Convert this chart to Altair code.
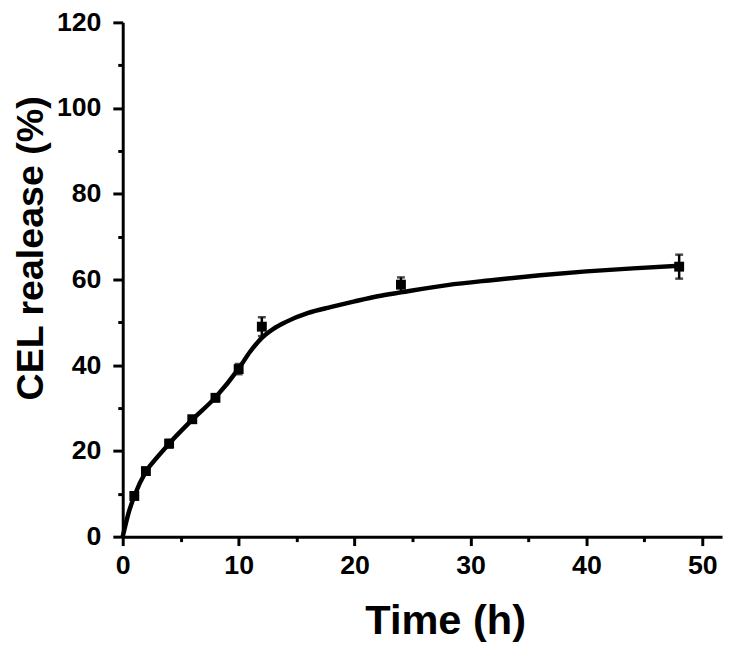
import altair as alt
import pandas as pd

# measured points
time_h = [1, 2, 4, 6, 8, 10, 12, 24, 48]
release = [9.5, 15.3, 21.7, 27.4, 32.4, 39.1, 49.0, 58.8, 63.0]
error = [0.8, 0.7, 0.9, 0.7, 0.8, 1.2, 2.2, 1.7, 2.8]

# fitted curve
fit_t = [0, 0.5, 1, 2, 3, 4, 6, 8, 10, 11, 12, 13, 14, 16, 18, 20, 22, 24, 28, 32, 36, 40, 44, 48]
fit_y = [0, 5.5, 9.5, 15.2, 18.6, 21.7, 27.3, 32.5, 39.2, 43.2, 46.4, 48.5, 50.0, 52.2, 53.6,
         54.9, 56.1, 57.0, 58.7, 59.9, 61.0, 61.9, 62.6, 63.2]

x_major = [0, 10, 20, 30, 40, 50]
x_minor = [5, 15, 25, 35, 45]
y_major = [0, 20, 40, 60, 80, 100, 120]
y_minor = [10, 30, 50, 70, 90, 110]

pts = pd.DataFrame({"t": time_h, "r": release, "e": error})
pts["lo"] = pts["r"] - pts["e"]
pts["hi"] = pts["r"] + pts["e"]
fit = pd.DataFrame({"t": fit_t, "r": fit_y})

FONT = "Liberation Sans"
xs = alt.Scale(domain=[0, 51.7], nice=False, zero=False)
ys = alt.Scale(domain=[0, 120], nice=False)

major_x = alt.Axis(values=x_major, orient="bottom", title="Time (h)", titleFontSize=42,
                   titleFont=FONT, titleFontWeight="bold", titleColor="black",
                   titleX=326, titleY=98, titleBaseline="alphabetic", titleAnchor="middle",
                   labelFont=FONT, labelFontSize=27, labelFontWeight="bold", labelColor="black",
                   labelPadding=7, tickSize=9, tickWidth=3, tickColor="black",
                   domainColor="black", domainWidth=3, grid=False, labelFlush=False)
major_y = alt.Axis(values=y_major, orient="left", title="CEL realease (%)", titleFontSize=38,
                   titleFont=FONT, titleFontWeight="bold", titleColor="black",
                   titleX=-81, titleY=228, titleAngle=-90, titleBaseline="alphabetic",
                   titleAlign="center",
                   labelFont=FONT, labelFontSize=27, labelFontWeight="bold", labelColor="black",
                   labelPadding=12, tickSize=10, tickWidth=3, tickColor="black",
                   domainColor="black", domainWidth=3, grid=False, labelFlush=False)
minor_x = alt.Axis(values=x_minor, orient="bottom", title=None, labels=False, domain=False,
                   tickSize=5, tickWidth=3, tickColor="black", grid=False)
minor_y = alt.Axis(values=y_minor, orient="left", title=None, labels=False, domain=False,
                   tickSize=5, tickWidth=3, tickColor="black", grid=False)

line = alt.Chart(fit).mark_line(color="black", strokeWidth=4.5, interpolate="monotone").encode(
    x=alt.X("t:Q", scale=xs, axis=major_x),
    y=alt.Y("r:Q", scale=ys, axis=major_y),
)

points = alt.Chart(pts).mark_square(color="black", size=100, opacity=1).encode(
    x=alt.X("t:Q", scale=xs, axis=minor_x),
    y=alt.Y("r:Q", scale=ys, axis=minor_y),
)

bars = alt.Chart(pts).mark_rule(color="black", strokeWidth=2.5).encode(
    x=alt.X("t:Q", scale=xs, axis=None),
    y=alt.Y("lo:Q", scale=ys, axis=None),
    y2="hi:Q",
)
cap_lo = alt.Chart(pts).mark_tick(color="black", thickness=2.5, size=8, orient="horizontal").encode(
    x=alt.X("t:Q", scale=xs, axis=None),
    y=alt.Y("lo:Q", scale=ys, axis=None),
)
cap_hi = alt.Chart(pts).mark_tick(color="black", thickness=2.5, size=8, orient="horizontal").encode(
    x=alt.X("t:Q", scale=xs, axis=None),
    y=alt.Y("hi:Q", scale=ys, axis=None),
)

chart = alt.layer(line, points, bars, cap_lo, cap_hi).resolve_axis(
    x="independent", y="independent"
).properties(
    width=606, height=520,
    autosize=alt.AutoSizeParams(type="none"),
    padding={"left": 116, "top": 11, "right": 5, "bottom": 105},
).configure_view(stroke=None)

chart.save("out.html", embed_options={"renderer": "svg", "actions": False})
